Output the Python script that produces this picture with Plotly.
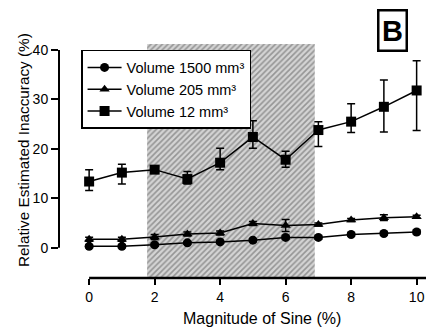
import plotly.graph_objects as go

x_vals = [0, 1, 2, 3, 4, 5, 6, 7, 8, 9, 10]

v1500 = [0.3, 0.3, 0.6, 1.0, 1.2, 1.55, 2.1, 2.1, 2.7, 2.9, 3.2]
v1500_err = [0.3, 0.3, 0.3, 0.3, 0.3, 0.3, 0.3, 0.3, 0.3, 0.3, 0.4]

v205 = [1.75, 1.75, 2.2, 2.8, 3.0, 4.9, 4.5, 4.7, 5.6, 6.1, 6.3]
v205_err = [0.4, 0.4, 0.5, 0.4, 0.4, 0.4, 1.2, 0.3, 0.3, 0.6, 0.3]

v12 = [13.4, 15.2, 15.8, 13.9, 17.2, 22.4, 17.8, 23.8, 25.5, 28.5, 31.8]
v12_up = [2.4, 1.7, 0.5, 1.5, 2.9, 3.3, 1.7, 1.7, 3.6, 5.4, 6.0]
v12_dn = [1.8, 2.3, 0.5, 1.0, 1.4, 2.3, 1.5, 3.3, 2.2, 5.1, 8.1]

shade_x = [1.77, 6.89]
shade_y = [-6.1, 41.2]

fig = go.Figure()

fig.add_trace(go.Scatter(
    x=[shade_x[0], shade_x[1], shade_x[1], shade_x[0], shade_x[0]],
    y=[shade_y[0], shade_y[0], shade_y[1], shade_y[1], shade_y[0]],
    mode='lines', fill='toself', line=dict(width=0, color='rgba(0,0,0,0)'),
    fillcolor='rgba(0,0,0,0)',
    fillpattern=dict(shape='/', fgcolor='#555555', bgcolor='#d4d4d4', size=4, solidity=0.4),
    showlegend=False, hoverinfo='skip'))

common = dict(mode='lines+markers', line=dict(color='black', width=1.5))

fig.add_trace(go.Scatter(x=x_vals, y=v1500, name='Volume 1500 mm³',
    marker=dict(symbol='circle', size=9, color='black'),
    error_y=dict(type='data', array=v1500_err, color='black', thickness=1.5, width=4),
    **common))
fig.add_trace(go.Scatter(x=x_vals, y=v205, name='Volume 205 mm³',
    marker=dict(symbol='triangle-up', size=9, color='black'),
    error_y=dict(type='data', array=v205_err, color='black', thickness=1.5, width=4),
    **common))
fig.add_trace(go.Scatter(x=x_vals, y=v12, name='Volume 12 mm³',
    marker=dict(symbol='square', size=10, color='black'),
    error_y=dict(type='data', array=v12_up, arrayminus=v12_dn, symmetric=False,
                 color='black', thickness=1.5, width=4),
    **common))

font = 'Liberation Sans, Arial, sans-serif'

# detached axis lines
fig.add_shape(type='line', xref='paper', yref='y', x0=0, x1=0, y0=0, y1=40,
              line=dict(color='black', width=2))
fig.add_shape(type='line', xref='x', yref='paper', x0=0, x1=10.5, y0=0, y1=0,
              line=dict(color='black', width=2.5))

fig.update_layout(
    width=426, height=325,
    margin=dict(l=51, r=1, t=32, b=55),
    paper_bgcolor='white', plot_bgcolor='white',
    font=dict(family=font, size=14, color='black'),
    xaxis=dict(range=[-0.92, 10.5], tickvals=[0, 2, 4, 6, 8, 10], ticks='outside',
               ticklen=6, tickwidth=2, tickcolor='black', showgrid=False,
               zeroline=False, showline=False, tickfont=dict(size=14)),
    yaxis=dict(range=[-6.1, 42], tickvals=[0, 10, 20, 30, 40], ticks='outside',
               ticklen=7, tickwidth=2, tickcolor='black', showgrid=False,
               zeroline=False, showline=False, tickfont=dict(size=14)),
    legend=dict(x=0.059, y=0.958, xanchor='left', yanchor='top',
                bgcolor='white', bordercolor='black', borderwidth=1.5,
                font=dict(size=14.5), itemwidth=34),
    annotations=[
        dict(text='Magnitude of Sine (%)', xref='paper', yref='paper',
             x=(262 - 59) / 374, y=-0.17, xanchor='center', yanchor='middle',
             showarrow=False, font=dict(size=16)),
        dict(text='Relative Estimated Inaccuracy (%)', xref='paper', yref='paper',
             x=(23 - 59) / 374, y=(278 - 150) / 238, xanchor='center', yanchor='middle',
             textangle=-90, showarrow=False, font=dict(size=15.3)),
        dict(text='<b>B</b>', xref='paper', yref='paper',
             x=(392 - 59) / 374, y=(278 - 31) / 238, xanchor='center', yanchor='middle',
             showarrow=False, font=dict(size=29), bordercolor='black', borderwidth=2.5,
             borderpad=0, width=26, height=38, bgcolor='white'),
    ],
)

fig.write_html('out.html')
